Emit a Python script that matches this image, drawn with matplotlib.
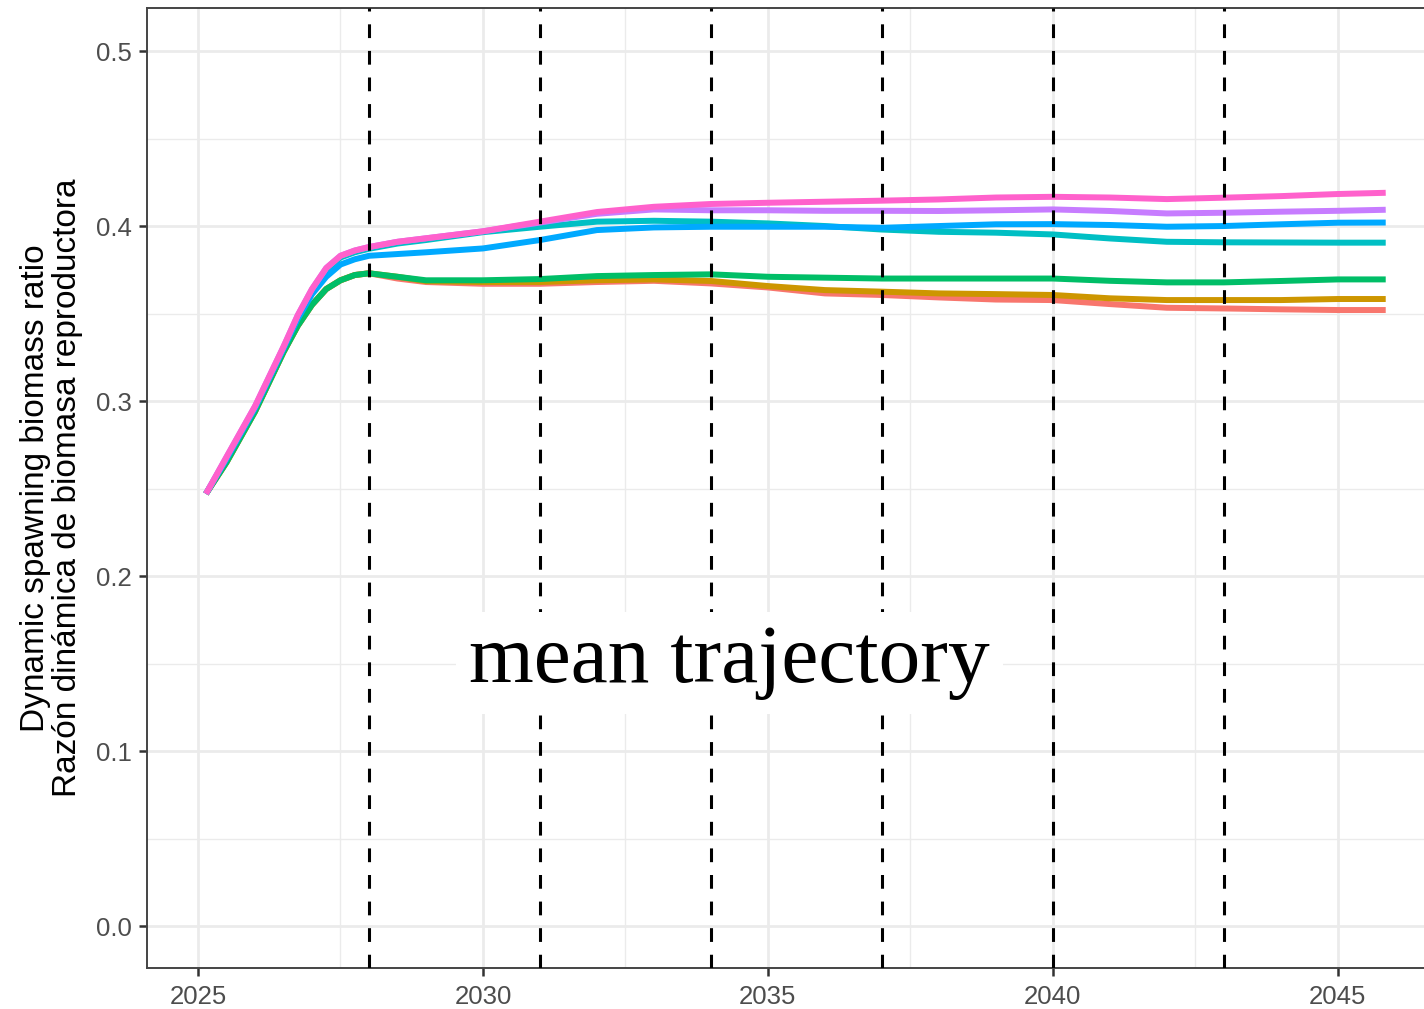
import matplotlib

matplotlib.use("Agg")
import matplotlib.pyplot as plt
from matplotlib.ticker import MultipleLocator

years = [
    2025.14, 2025.5, 2026.0, 2026.5, 2026.75, 2027.0, 2027.25, 2027.5, 2027.75,
    2028.0, 2028.5, 2029.0, 2030.0, 2031.0, 2032.0, 2033.0, 2034.0, 2035.0,
    2036.0, 2037.0, 2038.0, 2039.0, 2040.0, 2041.0, 2042.0, 2043.0, 2044.0,
    2045.0, 2045.84,
]

salmon = [
    0.247, 0.265, 0.294, 0.328, 0.343, 0.355, 0.364, 0.369, 0.372,
    0.373, 0.370, 0.368, 0.367, 0.367, 0.368, 0.3687, 0.3672, 0.3649,
    0.3615, 0.3606, 0.3592, 0.358, 0.3577, 0.3554, 0.3533, 0.3529, 0.3524,
    0.352, 0.352,
]
gold = [
    0.247, 0.265, 0.294, 0.328, 0.343, 0.355, 0.364, 0.369, 0.372,
    0.373, 0.371, 0.3685, 0.368, 0.368, 0.369, 0.3695, 0.3686, 0.3657,
    0.3634, 0.3625, 0.3615, 0.3611, 0.3606, 0.3587, 0.3577, 0.3577, 0.3577,
    0.3583, 0.3583,
]
green = [
    0.247, 0.265, 0.294, 0.328, 0.343, 0.355, 0.364, 0.369, 0.372,
    0.373, 0.371, 0.369, 0.369, 0.3697, 0.3714, 0.372, 0.3724, 0.371,
    0.3705, 0.370, 0.370, 0.370, 0.370, 0.3687, 0.3678, 0.3678, 0.3686,
    0.3695, 0.3695,
]
teal = [
    0.247, 0.267, 0.296, 0.330, 0.348, 0.363, 0.375, 0.382, 0.385,
    0.387, 0.390, 0.392, 0.3965, 0.3996, 0.4025, 0.403, 0.4025, 0.4015,
    0.400, 0.398, 0.3967, 0.3962, 0.3952, 0.3929, 0.391, 0.3907, 0.3906,
    0.3905, 0.3905,
]
blue = [
    0.247, 0.267, 0.296, 0.330, 0.347, 0.361, 0.371, 0.378, 0.381,
    0.383, 0.384, 0.385, 0.3872, 0.392, 0.3977, 0.3992, 0.3996, 0.3996,
    0.3996, 0.399, 0.400, 0.401, 0.4011, 0.4006, 0.3996, 0.400, 0.401,
    0.4019, 0.402,
]
purple = [
    0.247, 0.268, 0.297, 0.331, 0.349, 0.364, 0.376, 0.383, 0.386,
    0.388, 0.391, 0.393, 0.397, 0.402, 0.407, 0.4095, 0.409, 0.409,
    0.4087, 0.4087, 0.4086, 0.409, 0.4095, 0.4086, 0.4072, 0.4076, 0.4082,
    0.4087, 0.4093,
]
pink = [
    0.247, 0.268, 0.297, 0.331, 0.349, 0.364, 0.376, 0.383, 0.386,
    0.388, 0.391, 0.393, 0.397, 0.4025, 0.408, 0.411, 0.4126, 0.4133,
    0.4139, 0.4145, 0.4152, 0.4163, 0.4167, 0.4163, 0.4154, 0.4162, 0.4171,
    0.4183, 0.419,
]

series = [salmon, gold, green, teal, blue, purple, pink]
series_colors = ["#F8766D", "#CD9600", "#00BE67", "#00BFC4", "#00A9FF", "#C77CFF", "#FF61CC"]

decision_years = [2028, 2031, 2034, 2037, 2040, 2043]

x_ticks = [2025, 2030, 2035, 2040, 2045]
y_ticks = [0.0, 0.1, 0.2, 0.3, 0.4, 0.5]

y_label = "Dynamic spawning biomass ratio\nRazón dinámica de biomasa reproductora"
annotation = "mean trajectory"

plt.rcParams["font.family"] = ["Liberation Sans", "DejaVu Sans"]

fig = plt.figure(figsize=(14.24, 10.09), dpi=100)
# right edge of the panel sits past the image border, as in the reference
ax = fig.add_axes((147 / 1424, 41 / 1009, 1294 / 1424, 960 / 1009))

ax.set_xlim(2024.105, 2046.81)
ax.set_ylim(-0.024, 0.5246)

ax.xaxis.set_minor_locator(MultipleLocator(2.5))
ax.yaxis.set_minor_locator(MultipleLocator(0.05))
ax.set_xticks(x_ticks)
ax.set_yticks(y_ticks)
ax.set_yticklabels([f"{v:.1f}" for v in y_ticks])

ax.grid(which="major", color="#EBEBEB", linewidth=2.0, zorder=0)
ax.grid(which="minor", color="#EBEBEB", linewidth=1.0, zorder=0)
ax.set_axisbelow(True)

for values, color in zip(series, series_colors):
    ax.plot(years, values, color=color, linewidth=4.3,
            solid_capstyle="butt", solid_joinstyle="round", zorder=3)

for yr in decision_years:
    ax.axvline(yr, color="black", linewidth=2.2, linestyle=(0, (4.5, 4.2)), zorder=4)

ax.text(
    2034.33, 0.1505, annotation,
    ha="center", va="center",
    fontsize=60, family=["Liberation Serif", "DejaVu Serif"],
    color="black",
    bbox={"boxstyle": "square,pad=0.16", "facecolor": "white", "edgecolor": "none"},
    zorder=6,
)

for side in ("left", "bottom", "top", "right"):
    ax.spines[side].set_color("#444444")
    ax.spines[side].set_linewidth(1.4)

ax.tick_params(which="major", length=6, width=1.8, color="#333333",
               labelsize=18.5, labelcolor="#4D4D4D")
ax.tick_params(axis="x", pad=6)
ax.tick_params(axis="y", pad=5)
ax.tick_params(which="minor", length=0)

ax.set_ylabel(y_label, fontsize=24, color="black", labelpad=9, linespacing=1.05)

fig.savefig("out.png", dpi=100)
plt.close(fig)
